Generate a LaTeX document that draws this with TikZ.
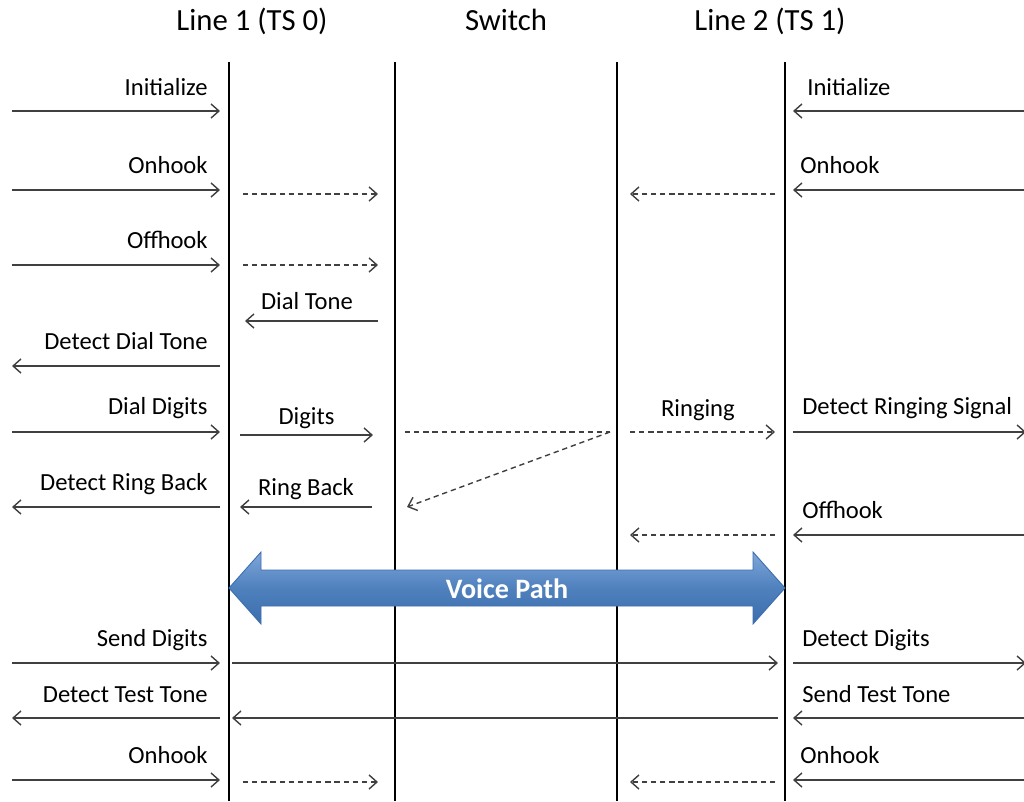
\documentclass[tikz,border=0pt]{standalone}
\usepackage{fontspec}
\setmainfont{Carlito}
\usetikzlibrary{arrows.meta}

\definecolor{pathblue}{HTML}{4F81BD}
\definecolor{pathlight}{HTML}{7FA6DA}
\definecolor{pathdark}{HTML}{3C6DAE}

\begin{document}
\begin{tikzpicture}[x=0.02cm,y=-0.02cm,
	life/.style={line width=1.6pt},
	msg/.style={color=black!75, line width=0.8pt, -{Straight Barb[length=4.5pt,width=8pt]}},
	sig/.style={msg, dash pattern=on 3pt off 2.2pt},
	lbl/.style={font=\fontsize{14}{16}\selectfont, inner sep=0pt, text=black},
	head/.style={font=\fontsize{17.5}{20}\selectfont, inner sep=0pt}]

	\useasboundingbox (0,0) rectangle (1024,801);

	% headers
	\node[head, anchor=base] (hl1) at (252,31) {Line 1 (TS 0)};
	\node[head, anchor=base] (hsw) at (506,31) {Switch};
	\node[head, anchor=base] (hl2) at (770,31) {Line 2 (TS 1)};

	% lifelines
	\coordinate (l1top) at (229,62);  \coordinate (l1bot) at (229,801);
	\coordinate (swatop) at (395,62); \coordinate (swabot) at (395,801);
	\coordinate (swbtop) at (617,62); \coordinate (swbbot) at (617,801);
	\coordinate (l2top) at (785,62);  \coordinate (l2bot) at (785,801);
	\draw[life] (l1top) -- (l1bot);
	\draw[life] (swatop) -- (swabot);
	\draw[life] (swbtop) -- (swbbot);
	\draw[life] (l2top) -- (l2bot);

	% initialize
	\coordinate (iniA) at (12,111);   \coordinate (iniB) at (220,111);
	\coordinate (iniC) at (1024,111); \coordinate (iniD) at (793,111);
	\path[msg] (iniA) edge (iniB)
		   (iniC) edge (iniD);
	\node[lbl, anchor=base east] (ini1) at (208,95) {Initialize};
	\node[lbl, anchor=base west] (ini2) at (807,95) {Initialize};

	% onhook
	\coordinate (onA) at (12,190);   \coordinate (onB) at (220,190);
	\coordinate (onC) at (1024,190); \coordinate (onD) at (793,190);
	\coordinate (onE) at (243,194);  \coordinate (onF) at (378,194);
	\coordinate (onG) at (775,194);  \coordinate (onH) at (630,194);
	\path[msg] (onA) edge (onB)
		   (onC) edge (onD);
	\path[sig] (onE) edge (onF)
		   (onG) edge (onH);
	\node[lbl, anchor=base east] (on1) at (208,173) {Onhook};
	\node[lbl, anchor=base west] (on2) at (800,173) {Onhook};

	% offhook
	\coordinate (offA) at (12,265);  \coordinate (offB) at (220,265);
	\coordinate (offE) at (243,265); \coordinate (offF) at (378,265);
	\path[msg] (offA) edge (offB);
	\path[sig] (offE) edge (offF);
	\node[lbl, anchor=base east] (off1) at (208,248) {Offhook};

	% dial tone
	\coordinate (dtA) at (378,321); \coordinate (dtB) at (245,321);
	\path[msg] (dtA) edge node[lbl, anchor=base, yshift=6.8pt, xshift=-2.6pt] (dt) {Dial Tone} (dtB);
	\coordinate (ddtA) at (220,366); \coordinate (ddtB) at (12,366);
	\path[msg] (ddtA) edge (ddtB);
	\node[lbl, anchor=base east] (ddt) at (208,349) {Detect Dial Tone};

	% dial digits and ringing
	\coordinate (ddA) at (12,432);   \coordinate (ddB) at (220,432);
	\coordinate (dgA) at (240,435);  \coordinate (dgB) at (373,435);
	\coordinate (rgS) at (405,432);  \coordinate (rgP) at (610,432);
	\coordinate (rgA) at (630,432);  \coordinate (rgB) at (775,432);
	\coordinate (drsA) at (793,432); \coordinate (drsB) at (1026,432);
	\coordinate (rbT) at (407,507);
	\path[msg] (ddA) edge (ddB)
		   (dgA) edge node[lbl, anchor=base, yshift=6pt] (dg) {Digits} (dgB)
		   (drsA) edge (drsB);
	\path[sig] (rgS) edge[-] (rgP)
		   (rgA) edge node[lbl, anchor=base, yshift=9pt, xshift=-2.6pt] (rg) {Ringing} (rgB)
		   (rgP) edge (rbT);
	\node[lbl, anchor=base east] (dd) at (208,414) {Dial Digits};
	\node[lbl, anchor=base west] (drs) at (802,414) {Detect Ringing Signal};

	% ring back
	\coordinate (drbA) at (220,507); \coordinate (drbB) at (12,507);
	\coordinate (rbA) at (372,507);  \coordinate (rbB) at (240,507);
	\path[msg] (drbA) edge (drbB)
		   (rbA) edge node[lbl, anchor=base, yshift=6.5pt] (rb) {Ring Back} (rbB);
	\node[lbl, anchor=base east] (drb) at (208,490) {Detect Ring Back};

	% offhook line 2
	\coordinate (off2A) at (1024,535); \coordinate (off2B) at (793,535);
	\coordinate (off2C) at (775,535);  \coordinate (off2D) at (630,535);
	\path[msg] (off2A) edge (off2B);
	\path[sig] (off2C) edge (off2D);
	\node[lbl, anchor=base west] (off2) at (802,518) {Offhook};

	% voice path
	\path[top color=pathlight, bottom color=pathdark, middle color=pathblue, draw=pathdark, line width=0.5pt]
		(229,588) -- (261,552) -- (261,570) -- (753,570) -- (753,552) -- (785,588)
		-- (753,624) -- (753,606) -- (261,606) -- (261,624) -- cycle;
	\node[font=\fontsize{16}{18}\selectfont\bfseries, text=white] (vp) at (507,589) {Voice Path};

	% digits through the path
	\coordinate (sdA) at (12,663);   \coordinate (sdB) at (220,663);
	\coordinate (sdC) at (232,663);  \coordinate (sdD) at (778,663);
	\coordinate (ddgA) at (793,663); \coordinate (ddgB) at (1026,663);
	\path[msg] (sdA) edge (sdB)
		   (sdC) edge (sdD)
		   (ddgA) edge (ddgB);
	\node[lbl, anchor=base east] (sd) at (208,646) {Send Digits};
	\node[lbl, anchor=base west] (ddg) at (802,646) {Detect Digits};

	% test tone
	\coordinate (ttA) at (1024,718); \coordinate (ttB) at (793,718);
	\coordinate (ttC) at (778,718);  \coordinate (ttD) at (232,718);
	\coordinate (dttA) at (220,718); \coordinate (dttB) at (12,718);
	\path[msg] (ttA) edge (ttB)
		   (ttC) edge (ttD)
		   (dttA) edge (dttB);
	\node[lbl, anchor=base east] (dtt) at (208,702) {Detect Test Tone};
	\node[lbl, anchor=base west] (stt) at (802,702) {Send Test Tone};

	% onhook again
	\coordinate (on3A) at (12,780);   \coordinate (on3B) at (220,780);
	\coordinate (on3C) at (1024,780); \coordinate (on3D) at (793,780);
	\coordinate (on3E) at (243,782);  \coordinate (on3F) at (378,782);
	\coordinate (on3G) at (775,782);  \coordinate (on3H) at (630,782);
	\path[msg] (on3A) edge (on3B)
		   (on3C) edge (on3D);
	\path[sig] (on3E) edge (on3F)
		   (on3G) edge (on3H);
	\node[lbl, anchor=base east] (on3) at (208,763) {Onhook};
	\node[lbl, anchor=base west] (on4) at (800,763) {Onhook};
\end{tikzpicture}
\end{document}
